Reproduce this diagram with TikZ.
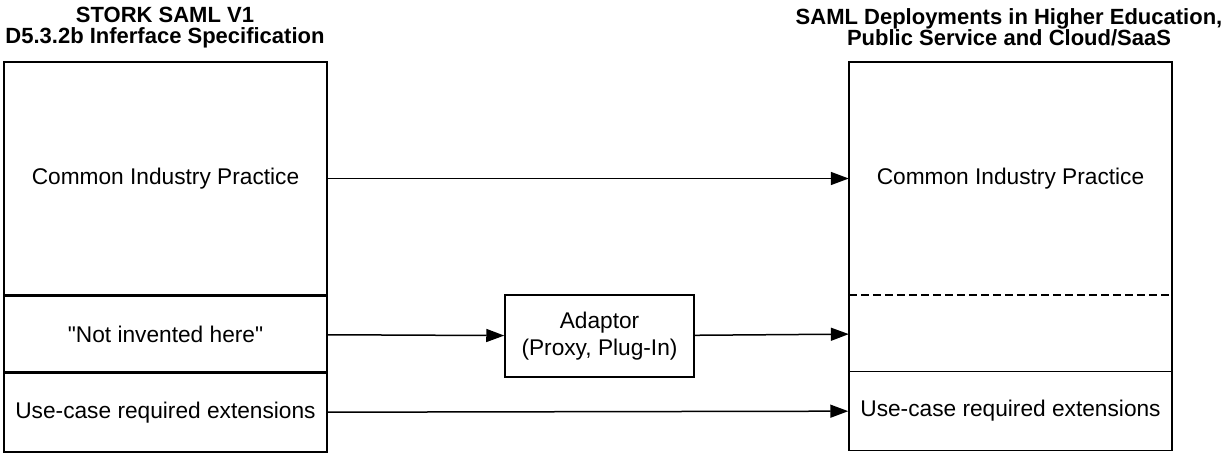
\documentclass[tikz,border=0pt]{standalone}
\usepackage{fontspec}
\setmainfont{Liberation Sans}
\usetikzlibrary{arrows.meta,positioning}

\begin{document}
\begin{tikzpicture}[
  x=1pt, y=-1pt,
  font=\fontsize{22.7}{27}\selectfont,
  cell/.style={draw, line width=1.5pt, minimum width=323pt, inner sep=0pt},
  ghost/.style={minimum width=323pt, inner sep=0pt},
  adbox/.style={draw, line width=1.5pt, minimum width=189pt, minimum height=82pt, inner sep=0pt, align=center},
  ttl/.style={font=\bfseries\fontsize{22}{21}\selectfont, align=center, inner sep=0pt},
  flow/.style={-{Triangle[length=18pt,width=13pt]}, line width=1.5pt}
]
\useasboundingbox (0,0) rectangle (1231,453);
\node[ttl] (lttl) at (165,27.5) {STORK SAML V1\\D5.3.2b Inferface Specification};
\node[ttl] (rttl) at (1009,27.5) {SAML Deployments in Higher Education,\\Public Service and Cloud/SaaS};
% left column
\node[cell, minimum height=233pt] (lcom) at (165.5,178.5) {Common Industry Practice};
\node[cell, minimum height=75pt, below=0pt of lcom] (lnih) {\textquotedbl Not invented here\textquotedbl};
\node[cell, minimum height=79pt, below=0pt of lnih] (luse) {Use-case required extensions};
% right column
\node[ghost, minimum height=233pt] (rcom) at (1010.5,178.5) {Common Industry Practice};
\node[ghost, minimum height=75pt, below=0pt of rcom] (rgap) {};
\node[cell, minimum height=79pt, below=0pt of rgap] (ruse) {Use-case required extensions};
\draw[line width=1.5pt] (rgap.south west) |- (rcom.north east) -- (rgap.south east);
\draw[line width=1.5pt, dash pattern=on 8pt off 4pt] (rcom.south west) -- (rcom.south east);
% adaptor
\node[adbox] (adap) at (599.5,336) {Adaptor\\(Proxy, Plug-In)};
\draw[flow] (lcom) -- (rcom);
\draw[flow] (lnih) -- (adap);
\draw[flow] (adap) -- (rgap);
\draw[flow] (luse) -- (ruse);
\end{tikzpicture}
\end{document}
